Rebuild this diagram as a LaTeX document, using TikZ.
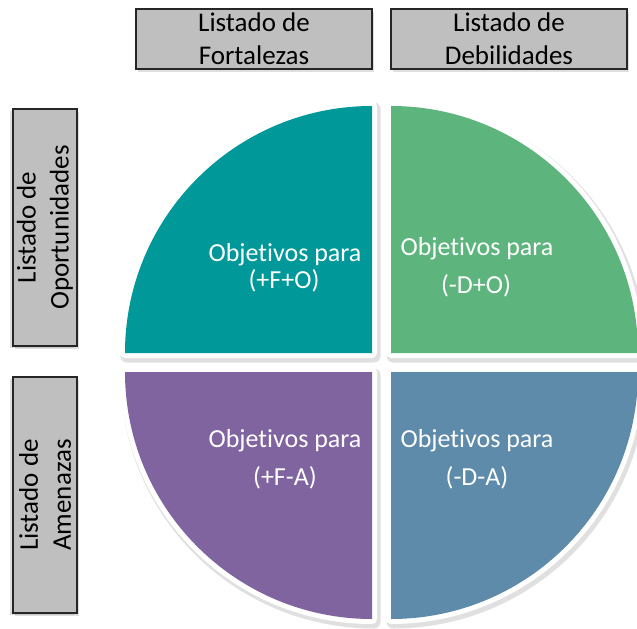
\documentclass[tikz,border=0pt]{standalone}
\usepackage{fontspec}
\setmainfont{Carlito}[Ligatures=NoCommon]
\usepackage{tikz}
\usetikzlibrary{shadows}
\definecolor{turquesa}{RGB}{0,152,152}
\definecolor{verde}{RGB}{94,180,125}
\definecolor{morado}{RGB}{128,100,160}
\definecolor{azul}{RGB}{94,139,170}
\definecolor{lista}{RGB}{191,191,191}
\begin{document}
\begin{tikzpicture}[x=1bp, y=-1bp]
\tikzstyle{every node}=[inner sep=0pt, font=\fontsize{26bp}{33bp}\selectfont]
\tikzstyle{listado}=[draw=black!85, line width=1.2bp, fill=lista, align=center,
                     font=\fontsize{27bp}{33bp}\selectfont,
                     drop shadow={shadow xshift=2bp, shadow yshift=-3bp, opacity=.25}]
\tikzstyle{listadov}=[listado, rotate=90, minimum height=64bp,
                      drop shadow={shadow xshift=-3bp, shadow yshift=-2bp, opacity=.25}]
\tikzstyle{obj}=[text=white, anchor=base]
\useasboundingbox (0,0) rectangle (637,629);
% cuadrantes
\foreach \col/\cx/\cy/\ang in {turquesa/372/353/180, verde/391/353/270,
                               azul/391/372/0, morado/372/372/90} {
  \draw[black, opacity=.12, line width=13bp, line join=round, shift={(2,3)}]
    (\cx,\cy) -- +(\ang:247) arc[start angle=\ang, delta angle=90, radius=247] -- cycle;
  \draw[white, line width=10bp, line join=round]
    (\cx,\cy) -- +(\ang:247) arc[start angle=\ang, delta angle=90, radius=247] -- cycle;
  \fill[\col]
    (\cx,\cy) -- +(\ang:247) arc[start angle=\ang, delta angle=90, radius=247] -- cycle;
}
\node[obj] (fo1) at (285,261) {Objetivos para};
\node[obj] (fo2) at (284,288) {(+F+O)};
\node[obj] (do1) at (477,255) {Objetivos para};
\node[obj] (do2) at (476,293) {(-D+O)};
\node[obj] (fa1) at (285,447) {Objetivos para};
\node[obj] (fa2) at (285,485) {(+F-A)};
\node[obj] (da1) at (477,447) {Objetivos para};
\node[obj] (da2) at (477,485) {(-D-A)};
% listados
\node[listado, minimum width=236bp, minimum height=60bp] (F) at (254,39) {Listado de\\Fortalezas};
\node[listado, minimum width=236bp, minimum height=60bp] (D) at (509,39) {Listado de\\Debilidades};
\node[listadov, minimum width=237bp] (O) at (45,227.5) {Listado de\\Oportunidades};
\node[listadov, minimum width=236bp] (A) at (45,495) {Listado de\\Amenazas};
\end{tikzpicture}
\end{document}
